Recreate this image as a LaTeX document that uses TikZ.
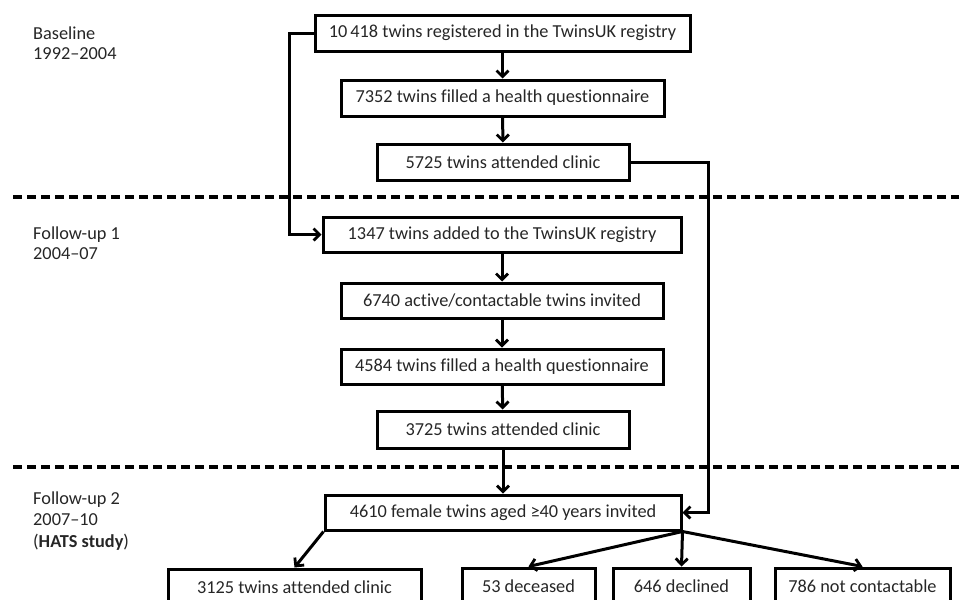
\documentclass[tikz,border=0pt]{standalone}
\usepackage{fontspec}
\setmainfont{Carlito}[Ligatures={TeX,NoCommon}]
\usetikzlibrary{arrows.meta}
\begin{document}
\begin{tikzpicture}[x=1pt,y=-1pt,
  box/.style={draw=black,line width=3pt,minimum height=36pt,inner sep=0pt,
    font=\fontsize{18.3}{21}\selectfont,text=black!85},
  lbl/.style={anchor=west,inner sep=0pt,align=left,text=black!85},
  conn/.style={line width=3pt,-{Straight Barb[length=6pt,width=12pt,line width=2.8pt]}},
  sep/.style={line width=3.5pt,dash pattern=on 9pt off 5pt}]
\useasboundingbox (0,0) rectangle (959,600);
\clip (0,0) rectangle (959,600);
% period labels
\node[lbl,font=\fontsize{18.3}{20}\selectfont] (p1) at (33,43) {Baseline\\1992--2004};
\node[lbl,font=\fontsize{18.3}{20}\selectfont] (p2) at (33,243) {Follow-up 1\\2004--07};
\node[lbl,font=\fontsize{18.3}{21.5}\selectfont] (p3) at (33,521) {Follow-up 2\\2007--10\\(\textbf{HATS study})};
% separators
\coordinate (s1a) at (13,197); \coordinate (s1b) at (959,197);
\coordinate (s2a) at (13,467); \coordinate (s2b) at (959,467);
\draw[sep] (s1a) -- (s1b);
\draw[sep] (s2a) -- (s2b);
% boxes
\node[box,minimum width=375pt] (b1) at (502.5,33) {10\,418 twins registered in the TwinsUK registry};
\node[box,minimum width=323pt] (b2) at (502.5,98) {7352 twins filled a health questionnaire};
\node[box,minimum width=252pt] (b3) at (503,162) {5725 twins attended clinic};
\node[box,minimum width=358pt,minimum height=35pt] (b4) at (502,234.5) {1347 twins added to the TwinsUK registry};
\node[box,minimum width=322pt,minimum height=35pt] (b5) at (502,300.5) {6740 active/contactable twins invited};
\node[box,minimum width=322pt,minimum height=35pt] (b6) at (502,366.5) {4584 twins filled a health questionnaire};
\node[box,minimum width=252pt,minimum height=37pt] (b7) at (503,429.5) {3725 twins attended clinic};
\node[box,minimum width=356pt,minimum height=35pt] (b8) at (503,512.5) {4610 female twins aged ≥40 years invited};
\node[box,minimum width=253pt] (b9) at (294.5,587) {3125 twins attended clinic};
\node[box,minimum width=133pt] (b10) at (528.5,586) {53 deceased};
\node[box,minimum width=137pt] (b11) at (681.5,586) {646 declined};
\node[box,minimum width=175pt] (b12) at (862.5,586) {786 not contactable};
% connectors
\draw[conn] (b1) -- (b2);
\draw[conn] (b2) -- (b3);
\draw[conn] (b4) -- (b5);
\draw[conn] (b5) -- (b6);
\draw[conn] (b6) -- (b7);
\draw[conn] (b7) -- (b8);
\coordinate (lx) at (289,0);
\coordinate (rx) at (708,0);
\draw[conn] (b1.west) -- (b1.west -| lx) |- (b4.west);
\draw[conn] (b3.east) -- (b3.east -| rx) |- (b8.east);
\draw[conn] (b8.south west) -- (b9.north);
\draw[conn] (b8.south east) -- (b10.north);
\draw[conn] (b8.south east) -- (b11.north);
\draw[conn] (b8.south east) -- (b12.north);
\end{tikzpicture}
\end{document}
